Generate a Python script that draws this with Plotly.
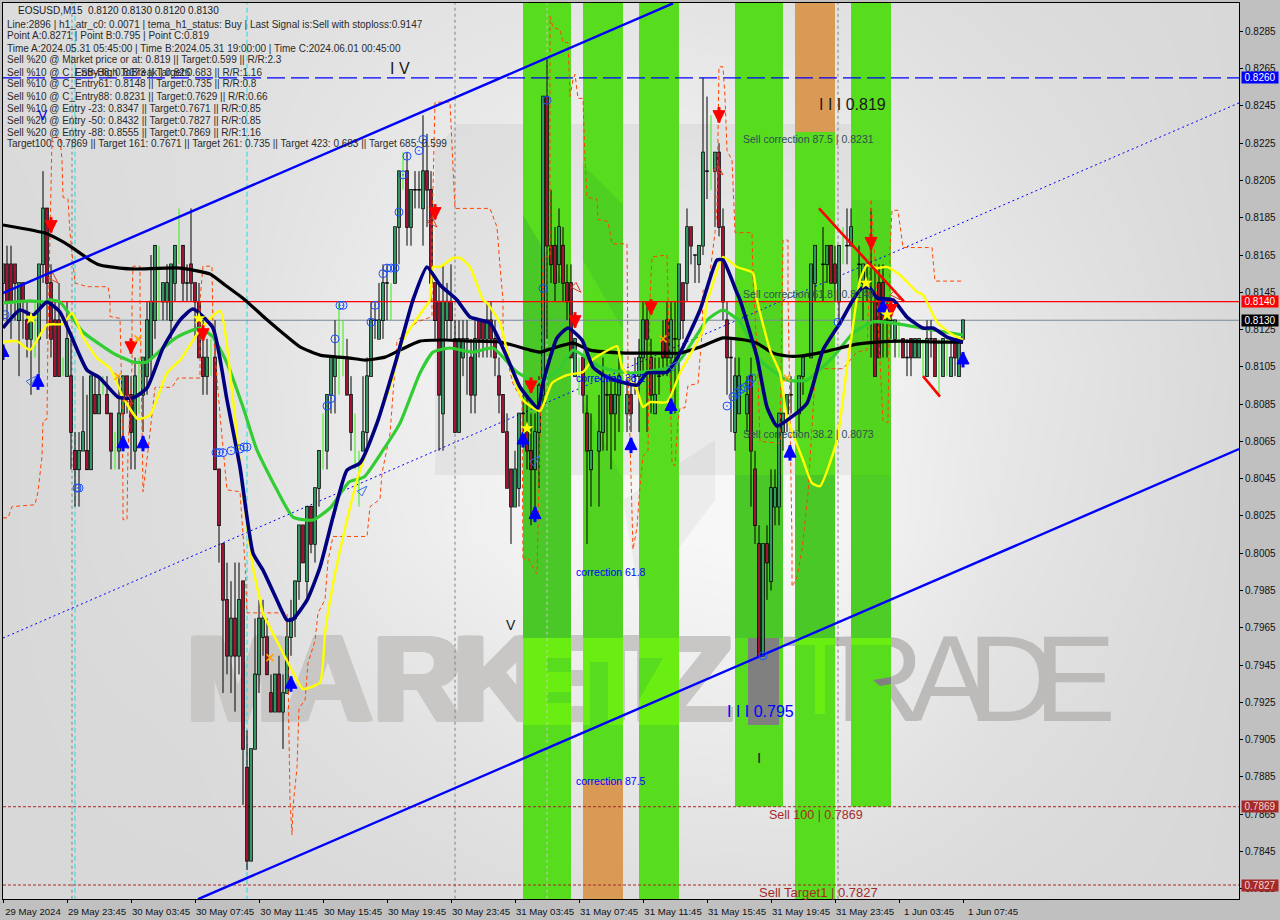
import plotly.graph_objects as go

# ---------- candle data (prices in thousandths) ----------
open_ = [815,816,816,816,813,815,813,812,813,812,
816,819,815,813,813,810,810,810,806,805,
806,806,805,809,808,809,809,808,806,806,
808,810,809,806,811,809,810,811,813,816,
814,814,813,815,817,817,815,816,815,814,
811,810,811,811,805,801,798,795,797,795,
799,789,784,790,794,796,796,793,792,794,
792,793,796,797,799,802,799,803,801,804,
807,806,809,810,811,811,811,809,807,805,
806,807,810,813,812,813,815,814,815,818,
821,821,818,820,820,819,821,820,815,814,
808,813,814,812,807,811,812,811,809,813,
813,812,813,812,810,809,807,805,803,804,
808,807,806,805,807,809,825,817,817,816,
817,815,815,810,811,811,808,805,807,806,
807,809,809,808,809,809,808,809,810,810,
811,813,811,808,810,812,813,811,812,812,
815,815,818,816.5,816,817,821,822,821,822,
818,813,811,807,808,809.5,808,810,805,801,
795,801,799,803,803,807,808,809,809,808,
810,810,811,815,817,816,816,817,816,814,
817,817,817,818,816,815,815,814,814,815,
815,813,813,812,812,812,811,812,811,811,
811,810,812,812,811,810,811,810,812,810,812]
high_ = [816,817,817,816,815,815,814,813,814,816,
821,819,816,814,815,811,814,812,807,807,
810,809,810,810,810,810,810,808,807,810,
810,810,810,811,811,811,814,816.5,817,817,
815,816,816,817,819,817,816,819,815,815,
813,812,812,813,805,801,800,799,800,800,
799,791,790,797,798,798,797,794,794,795,
794,797,798,799,802,802,803,803,804,806,
808,809,811,813,814,813,812,810,808,806,
810,811,814,814,815,816,816,815,818,821,
822,822,820,821,821,824,823,821,815,815,
816,815,816,813,813,813,813,812,813,813,
813,814,814,813,811,809,808,805,806,808,
809,809,808,808,810,825,827,820,818,819,
818,816,816,812,811,811,809,808,808,809,
811,810,810,810,811,810,810,810,811,812,
814,814,812,811,811,813,814,814,814,816,
815,819,818,816.5,817,826,825,824,822,822.5,
819,814,812,811,811,811,810,811,806,802,
801,802,805,805,808,808,809,810,810,810,
811,811,816,817,819,818,817,817,817,817,
818,819,819,819,817,816,816,819,816,816,
816,814,814,813,813,812,812,812,812,812,
812,813,813,812,812,812,812,812,812,812,813]
low_ = [813,813,812,813,810,812,811,809,811,810,
815,812,811,810,810,810,810,805,803,803,
806,805,805,808,808,809,808,805,805,805,
806,808,805,805,808,807,809,810,812,813,
813,813,812,814,816,814,814,814,812,811,
809,809,810,805,800,793,794,793,792,794,
787,783.5,784,790,793,795,794,792,792,792,
790,793,795,796,798,800,798,800.5,800,803,
805,805,808,808,809,810,809,806,805,803,
806,806,810,812,812,812,813,813,815,816,
820,817,817,819,819,817,818,814,812,806,
806,812,812,807,807,810,809,808,808,811,
811,811,811,810,808,807,804,801,803,803,
806.5,805,802,803,804,808.5,812,815,814,815,
814,813,811,810,809,808,801,803,805,803,
806,806,805,806,807,807,807,807,809,807,
810,807,808,808,809,810,810,809,808,810,
812,814,816,815,815,816.5,819.5,820,818,817.5,
813,809,807,806,808,807,807,803,801,795,
795,798,798.5,802,802,806,807,808,808,807,
809,809,811,814,815,814,815,815,814,813,
816,816,817,817,815,813,814,811,810,811,
811,811,812,811,811,811,810,810,811,811,
810,810,811,810,809,810,810,810,810,810,812]
close_ = [816,814,814,815,815,814,812,813,813,816,
819,815,812,810,810,810,812,807,805,806,
807,805,810,808,809,809,808,806,806,808,
810,809,807,810,811,811,813,814,817,816,
815,815,816,817,817,815,815,815,814,811,
810,811,811,805,802,798,795,797,795,798,
790,784,790,794,797,797,794,792,794,792,
793,796,797,799,802,800,803,801,804,806,
807,809,811,811,811,811,809,807,807,805,
807,810,813,813,813,815,815,814,818,821,
821,818,820,820,820,821,820,815,813,809,
814,814,813,807,812,812,812,809,812,812,
812,813,812,811,809,807,804,803,805,808,
808,806,805,807,809.5,825,817,816,815,818,
815,814,811,812,811,809,806,806,807,807,
810,809,808,809,810,809,809,808,810,811,
813,812,809,809,810,811,811,813,812,816,
813,818,817,816.5,817,822,821,822,822,818,
814,811,811,810,810,809.5,809,806,802,795,
801,800,804,804,808,808,809,809,809,810,
811,810,816,817,817,816,817,815,815,817,
817,817,818,818,816,816,815,814,810,811,
813,813,813,813,812,811,811,811,812,812,
811,812,812,810,811,812,811,811,811,812,813]
lime_bars = [8,15,25,28,34,39,44,52,80,84,85,88,89,97,100,144,148,155,177,185,198,201,204,210,213,224,230,234,236]

# ---------- indicator lines ----------
black_x = [0,4.25,10.5,14.25,16.75,21.75,24.25,29.25,33,44.25,51.75,55.5,60.5,65.5,70.5,74.25,79.25,86.75,90.5,95.5,99.25,104.25,110.5,116.75,124.25,131.75,134.25,136.75,142.5,146.75,156,164.25,169.25,174.25,180,185.5,188.5,192.5,196,199.25,205,209.25,213.5,218.5,224.25,234.25,240]
black_y = [.81811,.81795,.81768,.81730,.81698,.81623,.81596,.81580,.81575,.81580,.81548,.81489,.81409,.81312,.81221,.81157,.81113,.81097,.81086,.81102,.81140,.81188,.81194,.81188,.81183,.81140,.81129,.81145,.81177,.81140,.81124,.81124,.81124,.81156,.81205,.81194,.81177,.81124,.81108,.81108,.81129,.81151,.81172,.81183,.81188,.81183,.81183]
green_x = [0,6.75,10.5,11.75,14.25,16.75,20,27.5,32.5,36,40,43.5,49.25,52.5,56,60,63.5,68.5,72.5,77.5,82,86.5,90.25,95,99.25,104.25,107.5,111.75,117.5,122.5,128.5,133.5,138.5,142.5,146,149.25,156.75,166,169.25,176,180,184.25,189.25,196,201,207.5,212.5,217.5,222.5,231,240]
green_y = [.81393,.81404,.81398,.81409,.81398,.81328,.81237,.81124,.81076,.81076,.81151,.81210,.81258,.81210,.81070,.80834,.80603,.80389,.80244,.80228,.80298,.80432,.80459,.80603,.80748,.81017,.81129,.81151,.81129,.81151,.81022,.80969,.81022,.81140,.81097,.81049,.81017,.81043,.81086,.81301,.81355,.81291,.81086,.80979,.80979,.81102,.81231,.81291,.81285,.81253,.81221]
navy_x = [0,4.25,7.5,11,14.25,16.75,21,24.25,28.75,32.5,36,40,44.25,47.5,52.5,56,59.25,62.5,65,68.5,71,72.5,76,79.25,82.5,86,89.25,93.5,98.5,102.5,106,109.25,113.5,116.75,121.75,126,129.25,133.75,135,138.5,141.25,144.75,147.5,151,158.5,161,166,169.25,174.25,178.5,180,183.5,184.25,188.5,191,193.5,196.75,201,205,209.25,212.5,214.75,216.75,218.5,222.5,226,230,232.5,236,240]
navy_y = [.81259,.81355,.81328,.81398,.81344,.81231,.81033,.80990,.80888,.80883,.80937,.81151,.81301,.81360,.81258,.80872,.80512,.80051,.79959,.79798,.79691,.79696,.79798,.79975,.80244,.80496,.80534,.80748,.81102,.81409,.81586,.81489,.81409,.81317,.81285,.81102,.80942,.80829,.80963,.81205,.81258,.81194,.81049,.80995,.80952,.81017,.81022,.81124,.81355,.81623,.81623,.81446,.81409,.81102,.80834,.80732,.80775,.80855,.81140,.81285,.81409,.81473,.81473,.81420,.81409,.81317,.81258,.81258,.81210,.81183]
yellow_x = [0,3.5,6.75,11,15,17.25,20,23.5,26.75,30,33.75,36.75,41,44.25,49.25,54.25,57.5,60,62.5,64.25,65,69.25,72.5,75,79.25,80.5,81.75,84.25,88.5,92.5,96.75,100,105,106.75,107.5,109.25,112.5,114.25,116.75,120,121,124.25,127.25,130,134.25,137.25,141,145,147.25,150,153.5,154.75,158.5,160,161.75,166,169.25,175,176,176.75,180,183.5,187.5,188.5,191.75,194.25,196,200,202.25,204.25,208.5,211,212.25,214.25,216,218.5,221,224.25,228.5,230,233.5,236.75,240]
yellow_y = [.81183,.81188,.81140,.81275,.81280,.81339,.81210,.81097,.81043,.80888,.80770,.80791,.81017,.81086,.81248,.81350,.80872,.80373,.79975,.79798,.79728,.79546,.79412,.79321,.79358,.79621,.79798,.80067,.80443,.80695,.80942,.81194,.81355,.81409,.81586,.81586,.81634,.81634,.81586,.81409,.81393,.81285,.81022,.80872,.80813,.80963,.81006,.81022,.81086,.81124,.81161,.81049,.80925,.80834,.80861,.80861,.81017,.81248,.81409,.81446,.81640,.81586,.81554,.81409,.81140,.81017,.80781,.80550,.80426,.80410,.80657,.81049,.81231,.81516,.81596,.81580,.81586,.81543,.81452,.81436,.81291,.81231,.81194]
orange_x = [0,1.25,2.25,8,8.75,9.75,10,11,11.25,11.75,12,12.25,14.25,14.75,15,16.25,16.75,18,21,26.25,26.75,26.75,29.25,29.75,30,30,31,31.25,32.25,32.25,32.5,34.25,34.25,35,36.25,38,42.25,43.75,49.25,49.25,50,52.25,52.5,54.25,56,59.25,60.5,61,71,71.25,71.75,72.25,72.5,73.5,74,75.5,76.25,78,78.75,80.5,81.25,82.5,91,91.75,94.25,94.75,96.75,98.5,103.5,107.25,107.25,108,111.75,112.5,113,121.75,123.5,124.25,125,125,127.5,129.75,130,131,133.5,134.25,135,136.75,136.75,137.5,139.25,140,141.25,141.75,142.5,143,143.75,145,145.5,146,148.5,148.75,151.25,152.25,156,156.25,157.25,157.5,158.5,159.25,160,161.25,161.75,162.25,166,166.25,166.25,167.25,168,168.75,169.25,170.5,171.25,173.75,174.75,175,176.25,178,178.5,179,180,180.5,181,182.25,182.75,183,187.25,187.5,188.5,189.25,194.25,195,196.25,196.25,197.25,197.25,198.5,199.75,201.25,203,204.75,210,213.5,216,216.75,217,218,220,221.25,221.75,222.25,223.75,225,232.25,233,239.75]
orange_y = [.8024,.8024,.8030,.8031,.8038,.8057,.8076,.8077,.8123,.8177,.8209,.8228,.8228,.8216,.8196,.8195,.8177,.8150,.8148,.8148,.8141,.8132,.8131,.8087,.8037,.8023,.8023,.8060,.8105,.8141,.8159,.8159,.8141,.8038,.8060,.8094,.8094,.8099,.8099,.8141,.8159,.8159,.8125,.8079,.8039,.8038,.8000,.7973,.7973,.7930,.7873,.7854,.7869,.7890,.7922,.7926,.7946,.7958,.7973,.7980,.8001,.8014,.8014,.8030,.8034,.8048,.8069,.8119,.8129,.8132,.8177,.8247,.8247,.8212,.8190,.8190,.8180,.8159,.8141,.8118,.8096,.8087,.8001,.8003,.7994,.8069,.8164,.8164,.8293,.8287,.8286,.8279,.8279,.8250,.8259,.8262,.8249,.8249,.8216,.8196,.8195,.8184,.8183,.8171,.8171,.8105,.8027,.8007,.8019,.8041,.8057,.8060,.8141,.8164,.8165,.8143,.8132,.8053,.8052,.8076,.8083,.8083,.8095,.8096,.8123,.8146,.8147,.8177,.8191,.8266,.8266,.8250,.8221,.8216,.8191,.8177,.8177,.8152,.8114,.8065,.8064,.8173,.8173,.8145,.8011,.7987,.7992,.8007,.8037,.8100,.8104,.8104,.8113,.8114,.8162,.8195,.8162,.8076,.8075,.8168,.8189,.8189,.8169,.8169,.8151,.8151]

# ---------- channel lines ----------
upper_x, upper_y = [0,167.5], [.81446,.8300]
lower_x, lower_y = [48.75,309], [.78194,.80609]
mid_x, mid_y = [0,309], [.79595,.82466]
red_a_x, red_a_y = [204,225.25], [.8190,.8140]
red_b_x, red_b_y = [230,234.25], [.8100,.8089]

# ---------- signal markers ----------
red_arrow_x = [12,32,50,108,132,143,162,179,217,222]
red_arrow_y = [.8180,.8115,.8122,.8187,.8094,.8129,.8136,.8239,.8171,.8135]
blue_arrow_x = [0,8.75,30,35,72,130,133,157,167,196.75,220,240]
blue_arrow_y = [.8114,.8098,.8065,.8065,.7936,.8067,.8027,.8064,.8085,.8060,.8138,.8110]
star_x = [7,49,131,215.75,221]
star_y = [.8131,.8131,.8072,.8150,.8133]
cross_x = [33.75,28.75,66.75,165,196]
cross_y = [.8120,.8100,.7949,.8120,.8099]
open_blue_x = [8.25,91,134,168.75]
open_blue_y = [.8100,.8041,.8057,.8108]
open_red_x = [13.75,108.5,144.5,180,32.5,224.25]
open_red_y = [.8150,.8180,.8145,.8208,.8085,.8141]
dot_x = [.5,18.5,19,53.25,54,55,57,59.25,60.25,61,81,82,83,84.25,85,92,93,95,96,97,98,99,100,101,104,105,135,136,181,182.5,183.5,184.5,185.5,186.5,187.25,190,208.75]
dot_y = [.8133,.8040,.8040,.8059,.8059,.8059,.8060,.8061,.8062,.8062,.8084,.8088,.8120,.8138,.8138,.8129,.8138,.8155,.8158,.8158,.8158,.8188,.8208,.8218,.8221,.8227,.8147,.8248,.8084,.8089,.8091,.8093,.8094,.8096,.8099,.7950,.8129]

# ---------- zones, levels, axis ----------
green_band_start = [130,145,159,183,198,212]
green_band_end = [142,155,169,195,208,222]
green_band_top = [.8305,.8305,.8305,.8305,.8231,.8305]
green_band_bottom = [.7810,.7883,.7810,.7869,.7810,.7869]
orange_band_start = [145,198]
orange_band_end = [155,208]
orange_band_top = [.7883,.8305]
orange_band_bottom = [.7810,.8231]
vline_gray = [17.25,113,136,208.75]
vline_cyan = [18,61]
hlevels = [.8260,.8140,.8130,.7869,.7827]
level_labels = ["0.8260","0.8140","0.8130","0.7869","0.7827"]
level_bg = ["#0000ff","#ff0000","#000000","#a52a2a","#a52a2a"]
x_tick_vals = [0,16,32,48,64,80,96,112,128,144,160,176,192,208,224,240]
x_tick_text = ["29 May 2024","29 May 23:45","30 May 03:45","30 May 07:45","30 May 11:45","30 May 15:45","30 May 19:45","30 May 23:45","31 May 03:45","31 May 07:45","31 May 11:45","31 May 15:45","31 May 19:45","31 May 23:45","1 Jun 03:45","1 Jun 07:45"]
y_tick_vals = [.8285,.8265,.8245,.8225,.8205,.8185,.8165,.8145,.8125,.8105,.8085,.8065,.8045,.8025,.8005,.7985,.7965,.7945,.7925,.7905,.7885,.7865,.7845,.7825]
header_lines = [
 "Line:2896 | h1_atr_c0: 0.0071 | tema_h1_status: Buy | Last Signal is:Sell with stoploss:0.9147",
 "Point A:0.8271 | Point B:0.795 | Point C:0.819",
 "Time A:2024.05.31 05:45:00 | Time B:2024.05.31 19:00:00 | Time C:2024.06.01 00:45:00",
 "Sell %20 @ Market price or at: 0.819 || Target:0.599 || R/R:2.3",
 "Sell %10 @ C_Entry38: 0.8073 || Target:0.683 || R/R:1.16",
 "Sell %10 @ C_Entry61: 0.8148 || Target:0.735 || R/R:0.8",
 "Sell %10 @ C_Entry88: 0.8231 || Target:0.7629 || R/R:0.66",
 "Sell %10 @ Entry -23: 0.8347 || Target:0.7671 || R/R:0.85",
 "Sell %20 @ Entry -50: 0.8432 || Target:0.7827 || R/R:0.85",
 "Sell %20 @ Entry -88: 0.8555 || Target:0.7869 || R/R:1.16",
 "Target100: 0.7869 || Target 161: 0.7671 || Target 261: 0.735 || Target 423: 0.683 || Target 685: 0.599",
]
# background tone grid (grey level)
bg_x = [0,49,99,149,199,249,309]
bg_y = [.8300,.8205,.8108,.8012,.7915,.7820]
bg_z = [[220,222,226,229,226,220,216],
        [218,222,232,240,238,226,216],
        [216,222,238,246,248,232,217],
        [216,222,236,246,248,230,216],
        [216,218,226,234,236,224,215],
        [216,216,218,222,222,218,215]]

FONT = "Liberation Sans"
GREEN_BAND = "#58dc1e"; LIME = "#6aee12"; ORANGE_BAND = "#d89a55"

def bx(px): return (px-3)/4
def pr(py): return .8260-(py-78)/18637
def fx(px): return px/1280*1280/1236-3/1236
def fy(py): return 1-(py-3)/896

fig = go.Figure()
base = dict(hoverinfo="skip", showlegend=False)

fig.add_trace(go.Heatmap(x=bg_x, y=bg_y, z=bg_z, zmin=0, zmax=255, zsmooth="best", showscale=False,
                         colorscale=[[0,"#000000"],[1,"#ffffff"]], hoverinfo="skip"))

def poly(pts, color):
    fig.add_trace(go.Scatter(x=[bx(p[0]) for p in pts]+[bx(pts[0][0])], y=[pr(p[1]) for p in pts]+[pr(pts[0][1])],
                             mode="lines", line=dict(width=0), fill="toself", fillcolor=color, **base))

# watermark backdrop
poly([(435,150),(457,124),(880,124),(880,475),(435,475)], "rgba(110,110,110,0.09)")
poly([(623,500),(640,600),(715,500),(715,440)], "rgba(110,110,110,0.08)")

# watermark letters
wm_letters = list("MARKETIZ")
wm_pos = [238,328,418,498,553,612,650,695]
WM = "#c8c7c5"
wm_shadow = ", ".join(f"{a}px {b}px 0 {WM}" for a,b in [(-4,0),(4,0),(-2,0),(2,0),(0,-1),(0,1),(-3,1),(3,-1),(-3,-1),(3,1)])
fig.add_trace(go.Scatter(x=[bx(p) for p in wm_pos], y=[pr(690)]*8, mode="text", text=wm_letters,
                         textfont=dict(family=FONT, size=123, color=WM, weight=700, shadow=wm_shadow), textposition="middle center", **base))
wm2_letters = list("TRADE")
wm2_pos = [818,880,950,1012,1075]
fig.add_trace(go.Scatter(x=[bx(p) for p in wm2_pos], y=[pr(690)]*5, mode="text", text=wm2_letters,
                         textfont=dict(family=FONT, size=123, color="#bcbbb9"), textposition="middle center", **base))

# zones
for a,b,t,bt in zip(green_band_start, green_band_end, green_band_top, green_band_bottom):
    fig.add_trace(go.Scatter(x=[a,b,b,a,a], y=[t,t,bt,bt,t], mode="lines", line=dict(width=0), fill="toself", fillcolor=GREEN_BAND, **base))
for a,b,t,bt in zip(orange_band_start, orange_band_end, orange_band_top, orange_band_bottom):
    fig.add_trace(go.Scatter(x=[a,b,b,a,a], y=[t,t,bt,bt,t], mode="lines", line=dict(width=0), fill="toself", fillcolor=ORANGE_BAND, **base))

dark = "rgba(30,140,70,0.24)"
poly([(523,215),(571,295),(571,640),(523,640)], dark)
poly([(583,165),(623,205),(623,330),(583,260)], "rgba(30,140,70,0.15)")
poly([(583,400),(623,480),(623,640),(583,640)], "rgba(30,140,70,0.10)")
poly([(735,475),(783,475),(783,638),(735,638)], dark)
poly([(795,475),(835,475),(835,638),(795,638)], dark)
poly([(851,475),(891,475),(891,638),(851,638)], "rgba(30,140,70,0.18)")
poly([(735,300),(783,300),(783,475),(735,475)], "rgba(30,140,70,0.08)")
poly([(851,200),(891,200),(891,475),(851,475)], "rgba(30,140,70,0.08)")
# letters showing through the zones
for a,c in [(523,571),(583,623),(639,679)]:
    poly([(a,638),(c,638),(c,725),(a,725)], LIME)
poly([(547,658),(571,658),(571,672),(547,672)], GREEN_BAND)
poly([(547,692),(571,692),(571,703),(547,703)], GREEN_BAND)
poly([(590,662),(608,662),(608,725),(590,725)], GREEN_BAND)
poly([(639,658),(663,658),(639,700)], GREEN_BAND)
poly([(795,638),(835,638),(835,645),(795,645)], LIME)
poly([(815,645),(825,645),(825,714),(815,714)], LIME)
poly([(851,638),(891,638),(891,645),(851,645)], LIME)
poly([(748,638),(779,638),(779,725),(748,725)], "#808080")
poly([(873,680),(891,677),(891,684),(880,686)], "#808080")

# verticals
for v in vline_gray:
    fig.add_trace(go.Scatter(x=[v,v], y=[.781,.831], mode="lines", line=dict(color="#808080" if v!=136 else "#c8c8c8", width=1, dash="3px,3px"), **base))
for v in vline_cyan:
    fig.add_trace(go.Scatter(x=[v,v], y=[.781,.831], mode="lines", line=dict(color="#22dddd", width=1, dash="5px,3px"), **base))

# levels
fig.add_trace(go.Scatter(x=[0,309], y=[hlevels[0]]*2, mode="lines", line=dict(color="#0000ff", width=1.3, dash="18px,6px"), **base))
fig.add_trace(go.Scatter(x=[0,309], y=[hlevels[2]]*2, mode="lines", line=dict(color="#778899", width=1), **base))
for l in hlevels[3:]:
    fig.add_trace(go.Scatter(x=[0,309], y=[l]*2, mode="lines", line=dict(color="#a52a2a", width=1, dash="3px,2px"), **base))
fig.add_trace(go.Scatter(x=mid_x, y=mid_y, mode="lines", line=dict(color="#0000ff", width=1, dash="2px,3px"), **base))

# lime doji wicks
lx, ly = [], []
for i in lime_bars:
    lx += [i,i,None]; ly += [low_[i]/1000, high_[i]/1000, None]
fig.add_trace(go.Scatter(x=lx, y=ly, mode="lines", line=dict(color="#33ee11", width=1), **base))

# candles: wick, outlined body, fill (kept in draw order above the zones)
keep = [i for i in range(len(open_)) if i not in lime_bars]
wx, wy, ox, oy, ux, uy, dx, dy = [], [], [], [], [], [], [], []
EDGE = 0.00004
for i in keep:
    o, h, l, c = open_[i]/1000, high_[i]/1000, low_[i]/1000, close_[i]/1000
    lo, hi = min(o,c), max(o,c)
    wx += [i,i,None]; wy += [l,h,None]
    ox += [i,i,None]; oy += [lo-EDGE,hi+EDGE,None]
    if c > o:
        ux += [i,i,None]; uy += [lo,hi,None]
    elif c < o:
        dx += [i,i,None]; dy += [lo,hi,None]
fig.add_trace(go.Scatter(x=wx, y=wy, mode="lines", line=dict(color="#000000", width=1), **base))
fig.add_trace(go.Scatter(x=ox, y=oy, mode="lines", line=dict(color="#000000", width=3.6), **base))
fig.add_trace(go.Scatter(x=ux, y=uy, mode="lines", line=dict(color="#3cb371", width=1.7), **base))
fig.add_trace(go.Scatter(x=dx, y=dy, mode="lines", line=dict(color="#c0143c", width=1.7), **base))

# red level sits above the candles
fig.add_trace(go.Scatter(x=[0,309], y=[hlevels[1]]*2, mode="lines", line=dict(color="#ff0000", width=1.3), **base))

# stepped line, averages
sp = dict(shape="spline", smoothing=0.5)
fig.add_trace(go.Scatter(x=orange_x, y=orange_y, mode="lines", line=dict(color="#ff4500", width=1, dash="4px,3px"), **base))
fig.add_trace(go.Scatter(x=green_x, y=green_y, mode="lines", line=dict(color="#32cd32", width=3.2, **sp), **base))
fig.add_trace(go.Scatter(x=black_x, y=black_y, mode="lines", line=dict(color="#000000", width=3.2, **sp), **base))
fig.add_trace(go.Scatter(x=yellow_x, y=yellow_y, mode="lines", line=dict(color="#ffff00", width=2.4, **sp), **base))
fig.add_trace(go.Scatter(x=navy_x, y=navy_y, mode="lines", line=dict(color="#000080", width=3.6, **sp), **base))

# channels & red lines
fig.add_trace(go.Scatter(x=upper_x, y=upper_y, mode="lines", line=dict(color="#0000ff", width=2.4), **base))
fig.add_trace(go.Scatter(x=lower_x, y=lower_y, mode="lines", line=dict(color="#0000ff", width=2.4), **base))
fig.add_trace(go.Scatter(x=red_a_x, y=red_a_y, mode="lines", line=dict(color="#ff0000", width=2.6), **base))
fig.add_trace(go.Scatter(x=red_b_x, y=red_b_y, mode="lines", line=dict(color="#ff0000", width=2.6), **base))

# markers
def mk(x,y,sym,size,color,lw=0,lc=None,angle=0):
    fig.add_trace(go.Scatter(x=x,y=y,mode="markers",marker=dict(symbol=sym,size=size,color=color,angle=angle,line=dict(width=lw,color=lc or color)),**base))
mk(dot_x,dot_y,"circle-open-dot",8,"#1a4fff",1)
# arrows: stem plus head
mk(red_arrow_x,[v+.00012 for v in red_arrow_y],"line-ns",11,"#ff0000",3)
mk(red_arrow_x,[v-.00030 for v in red_arrow_y],"arrow-down",12,"#ff0000",1)
mk(blue_arrow_x,[v-.00012 for v in blue_arrow_y],"line-ns",11,"#0000ff",3)
mk(blue_arrow_x,[v+.00030 for v in blue_arrow_y],"arrow-up",12,"#0000ff",1)
mk(star_x,star_y,"star",10,"#ffff00")
mk(cross_x,cross_y,"x-thin-open",7,"#ffa500",1.5)
mk(open_blue_x,open_blue_y,"arrow-open",11,"#3a6fe0",1,angle=45)
mk(open_red_x,open_red_y,"arrow-open",11,"#e03a20",1,angle=135)

anns = []
def txt(px,py,s,size=10,color="#1a1a1a",anchor="left",family=FONT):
    anns.append(dict(xref="paper",yref="paper",x=fx(px),y=fy(py),text=s,showarrow=False,xanchor=anchor,yanchor="middle",
                     font=dict(family=family,size=size,color=color),borderpad=0,borderwidth=0))
txt(18,10,"EOSUSD,M15  0.8120 0.8130 0.8120 0.8130")
for k,line in enumerate(header_lines):
    txt(7,24+12*k,line,color="#2a2a2a")
txt(68,72,"_FSB-High ToBreak | 0.826",color="#2a2a2a")
txt(400,68,"I V",size=16,anchor="center")
txt(511,625,"V",size=14,anchor="center")
txt(43,115,"V",size=14,color="#0000ff",anchor="center")
txt(852,105,"I I I 0.819",size=16,anchor="center")
txt(760,711,"I I I 0.795",size=16,color="#0000ff",anchor="center")
txt(759,757,"I",size=15,anchor="center")
sc="#2f4f4f"
txt(743,139,"Sell correction 87.5 | 0.8231",size=10.5,color=sc)
txt(743,294,"Sell correction 61.8 | 0.8148",size=10.5,color=sc)
txt(743,434,"Sell correction 38.2 | 0.8073",size=10.5,color=sc)
for y,s in [(378,"correction 38.2"),(572,"correction 61.8"),(781,"correction 87.5")]:
    txt(576,y,s,size=10.5,color="#0000ff")
txt(816,815,"Sell 100 | 0.7869",size=12.5,color="#a52a2a",anchor="center")
txt(818,892,"Sell Target1 | 0.7827",size=13,color="#a52a2a",anchor="center")
for lv,lab,bg in zip(hlevels,level_labels,level_bg):
    anns.append(dict(xref="paper",yref="y",x=fx(1241),y=lv,text=lab,showarrow=False,xanchor="left",yanchor="middle",
                     font=dict(family=FONT,size=10,color="#ffffff" if bg!="#a52a2a" else "#f4d8d0"),bgcolor=bg,width=36,height=11,borderpad=0,align="center"))

fig.update_layout(width=1280,height=920,autosize=False,margin=dict(l=3,r=41,t=3,b=21,pad=0),
    paper_bgcolor="#c0c0c0",plot_bgcolor="#dddddd",annotations=anns,showlegend=False,
    xaxis=dict(range=[0,309],tickmode="array",tickvals=x_tick_vals,ticktext=x_tick_text,ticks="outside",ticklen=3,tickcolor="#000000",
               tickfont=dict(family=FONT,size=9.6,color="#111111"),ticklabelshift=30,showgrid=False,zeroline=False,
               showline=True,mirror=True,linecolor="#000000",linewidth=1,tickangle=0),
    yaxis=dict(range=[.78195,.83002],side="right",tickmode="array",tickvals=y_tick_vals,ticktext=[f"{v:.4f}" for v in y_tick_vals],
               ticks="outside",ticklen=3,tickcolor="#000000",tickfont=dict(family=FONT,size=10,color="#111111"),showgrid=False,zeroline=False,
               showline=True,mirror=True,linecolor="#000000",linewidth=1))
fig.write_html("out.html",post_script="document.body.style.margin='0';",config={"displayModeBar":False})
